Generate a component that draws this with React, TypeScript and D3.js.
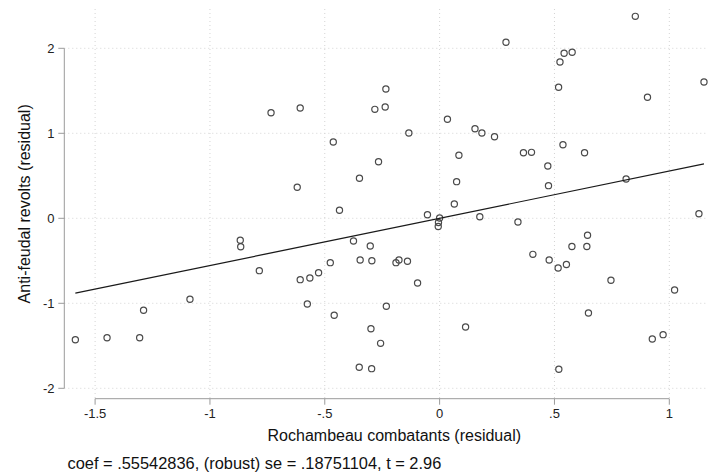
import React from 'react'
import * as d3 from 'd3'

// residuals
const xResid = [
  -1.586, -1.448, -1.306, -1.289, -1.087, -0.868, -0.866, -0.785, -0.734, -0.607,
  -0.62, -0.607, -0.576, -0.565, -0.527, -0.476, -0.463, -0.459, -0.436, -0.375,
  -0.349, -0.35, -0.346, -0.302, -0.295, -0.299, -0.296, -0.282, -0.266, -0.257,
  -0.237, -0.234, -0.232, -0.19, -0.177, -0.14, -0.134, -0.096, -0.053, 0.0,
  -0.005, -0.006, 0.034, 0.064, 0.074, 0.084, 0.113, 0.154, 0.175, 0.184,
  0.239, 0.289, 0.341, 0.365, 0.4, 0.406, 0.471, 0.474, 0.477, 0.518,
  0.524, 0.516, 0.519, 0.537, 0.542, 0.552, 0.577, 0.576, 0.631, 0.644,
  0.641, 0.648, 0.746, 0.812, 0.852, 0.905, 0.926, 0.973, 1.023, 1.129,
  1.151
]
const yResid = [
  -1.428, -1.405, -1.405, -1.082, -0.953, -0.259, -0.334, -0.616, 1.242, 1.298,
  0.365, -0.722, -1.008, -0.702, -0.64, -0.522, 0.898, -1.141, 0.094, -0.267,
  0.471, -1.753, -0.491, -0.326, -0.499, -1.299, -1.769, 1.282, 0.666, -1.471,
  1.309, 1.521, -1.035, -0.522, -0.491, -0.506, 1.004, -0.761, 0.042, 0.004,
  -0.049, -0.096, 1.165, 0.168, 0.431, 0.741, -1.279, 1.054, 0.019, 1.004,
  0.96, 2.071, -0.044, 0.772, 0.776, -0.424, 0.615, 0.384, -0.491, 1.541,
  1.839, -0.585, -1.776, 0.866, 1.941, -0.544, 1.953, -0.332, 0.772, -0.2,
  -0.332, -1.114, -0.729, 0.462, 2.376, 1.424, -1.42, -1.369, -0.844, 0.054,
  1.604
]

const coef = 0.55542836
const intercept = 0

const xTicks = [-1.5, -1, -0.5, 0, 0.5, 1]
const xTickLabels = ['-1.5', '-1', '-.5', '0', '.5', '1']
const yTicks = [-2, -1, 0, 1, 2]
const yTickLabels = ['-2', '-1', '0', '1', '2']

const font = 'Arial, "Liberation Sans", Helvetica, sans-serif'

export default function App() {
  const plot = {left: 64.3, right: 724.3, top: 9, bottom: 398.7}

  const xScale = d3.scaleLinear().domain([-1.5, 1]).range([95.1, 669.3])
  const yScale = d3.scaleLinear().domain([-2, 2]).range([388.3, 48.3])

  const points = xResid.map((x, i) => ({x, y: yResid[i]}))
  const xExt = d3.extent(xResid) as [number, number]
  const fit = d3
    .line<number>()
    .x(d => xScale(d))
    .y(d => yScale(intercept + coef * d))

  const grid = '#d4d4d4'
  const axisCol = '#9a9a9a'
  const midX = (plot.left + plot.right) / 2
  const midY = (plot.top + plot.bottom) / 2

  return (
    <svg
      width={708}
      height={476}
      style={{position: 'absolute', left: 0, top: 0, background: '#fff'}}
      fontFamily={font}
    >
      <rect width={708} height={476} fill="#fff" />
      {/* grid */}
      {yTicks.map(t => (
        <line
          key={'gy' + t}
          x1={plot.left}
          x2={plot.right}
          y1={yScale(t)}
          y2={yScale(t)}
          stroke={grid}
          strokeDasharray="1,3"
        />
      ))}
      {xTicks.map(t => (
        <line
          key={'gx' + t}
          x1={xScale(t)}
          x2={xScale(t)}
          y1={plot.top}
          y2={plot.bottom}
          stroke={grid}
          strokeDasharray="1,3"
        />
      ))}

      {/* y axis */}
      <line x1={plot.left} x2={plot.left} y1={yScale(2)} y2={yScale(-2)} stroke={axisCol} />
      {yTicks.map((t, i) => (
        <g key={'yt' + t}>
          <line x1={plot.left - 6} x2={plot.left} y1={yScale(t)} y2={yScale(t)} stroke={axisCol} />
          <text x={54.5} y={yScale(t) + 4.5} textAnchor="end" fontSize={13} fill="#222">
            {yTickLabels[i]}
          </text>
        </g>
      ))}
      <text
        transform={`translate(30,${midY}) rotate(-90)`}
        textAnchor="middle"
        fontSize={16}
        fill="#111"
      >
        Anti-feudal revolts (residual)
      </text>

      {/* x axis */}
      <line x1={xScale(-1.5)} x2={xScale(1)} y1={plot.bottom} y2={plot.bottom} stroke={axisCol} />
      {xTicks.map((t, i) => (
        <g key={'xt' + t}>
          <line x1={xScale(t)} x2={xScale(t)} y1={plot.bottom} y2={plot.bottom + 6} stroke={axisCol} />
          <text x={xScale(t)} y={418} textAnchor="middle" fontSize={13} fill="#222">
            {xTickLabels[i]}
          </text>
        </g>
      ))}
      <text x={midX} y={441} textAnchor="middle" fontSize={16} fill="#111">
        Rochambeau combatants (residual)
      </text>

      {/* markers */}
      {points.map((p, i) => (
        <circle
          key={i}
          cx={xScale(p.x)}
          cy={yScale(p.y)}
          r={3.1}
          fill="none"
          stroke="#4a4a4a"
          strokeWidth={1.2}
        />
      ))}

      {/* fitted line */}
      <path d={fit(xExt) || ''} fill="none" stroke="#1a1a1a" strokeWidth={1.2} />

      <text x={67.5} y={468.5} fontSize={16.4} fill="#111">
        coef = .55542836, (robust) se = .18751104, t = 2.96
      </text>
    </svg>
  )
}
